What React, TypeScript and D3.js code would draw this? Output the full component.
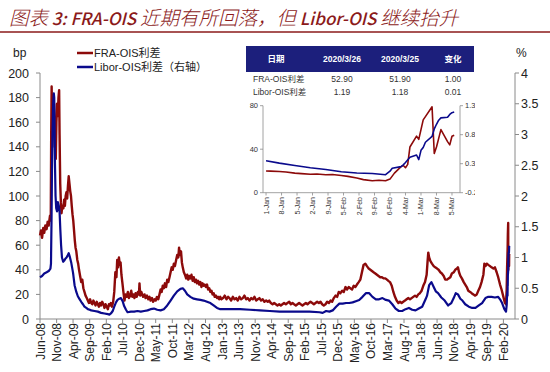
import React from 'react';
import * as d3 from 'd3';

// main series: FRA-OIS (bp, left axis), Libor-OIS (%, right axis)
const fraOis: [string, number][] = [
  ['2008-06-01', 68], ['2008-06-10', 72], ['2008-06-20', 66], ['2008-07-01', 74], ['2008-07-10', 70],
  ['2008-07-20', 76], ['2008-08-01', 73], ['2008-08-10', 79], ['2008-08-20', 76], ['2008-09-01', 84],
  ['2008-09-08', 80], ['2008-09-12', 150], ['2008-09-16', 189], ['2008-09-19', 172], ['2008-09-24', 182],
  ['2008-09-29', 150], ['2008-10-03', 160], ['2008-10-08', 175], ['2008-10-14', 140], ['2008-10-20', 155],
  ['2008-10-24', 130], ['2008-10-30', 160], ['2008-11-05', 175], ['2008-11-12', 165], ['2008-11-18', 180],
  ['2008-11-24', 186], ['2008-11-28', 150], ['2008-12-04', 110], ['2008-12-10', 95], ['2008-12-16', 86],
  ['2008-12-23', 92], ['2009-01-02', 90], ['2009-01-09', 97], ['2009-01-16', 92], ['2009-01-23', 100],
  ['2009-01-30', 103], ['2009-02-06', 98], ['2009-02-13', 108], ['2009-02-20', 116], ['2009-02-27', 110],
  ['2009-03-06', 104], ['2009-03-13', 100], ['2009-03-20', 92], ['2009-03-27', 85], ['2009-04-03', 80],
  ['2009-04-10', 72], ['2009-04-17', 64], ['2009-04-24', 58], ['2009-05-01', 55], ['2009-05-10', 48],
  ['2009-05-18', 45], ['2009-05-26', 40], ['2009-06-05', 35], ['2009-06-15', 30], ['2009-06-25', 32],
  ['2009-07-05', 25], ['2009-07-15', 22], ['2009-07-25', 19], ['2009-08-05', 17], ['2009-08-15', 15],
  ['2009-08-25', 13], ['2009-09-05', 16], ['2009-09-15', 13], ['2009-09-25', 12], ['2009-10-05', 15],
  ['2009-10-15', 13], ['2009-10-25', 11], ['2009-11-05', 14], ['2009-11-15', 12], ['2009-11-25', 10],
  ['2009-12-05', 13], ['2009-12-15', 11], ['2009-12-25', 14], ['2010-01-05', 12], ['2010-01-15', 9],
  ['2010-01-25', 12], ['2010-02-05', 10], ['2010-02-15', 8], ['2010-02-25', 12], ['2010-03-05', 11],
  ['2010-03-15', 13], ['2010-03-25', 10], ['2010-04-05', 14], ['2010-04-15', 22], ['2010-04-25', 38],
  ['2010-05-05', 34], ['2010-05-12', 48], ['2010-05-20', 42], ['2010-05-28', 50], ['2010-06-05', 44],
  ['2010-06-12', 46], ['2010-06-20', 36], ['2010-06-28', 30], ['2010-07-08', 22], ['2010-07-18', 15],
  ['2010-07-28', 20], ['2010-08-08', 18], ['2010-08-18', 22], ['2010-08-28', 17], ['2010-09-08', 19],
  ['2010-09-18', 23], ['2010-09-28', 18], ['2010-10-08', 20], ['2010-10-18', 17], ['2010-10-28', 21],
  ['2010-11-08', 18], ['2010-11-18', 22], ['2010-11-28', 20], ['2010-12-03', 29], ['2010-12-10', 19],
  ['2010-12-20', 22], ['2011-01-05', 18], ['2011-01-18', 20], ['2011-01-28', 17], ['2011-02-10', 19],
  ['2011-02-22', 16], ['2011-03-05', 18], ['2011-03-15', 15], ['2011-03-28', 17], ['2011-04-08', 14],
  ['2011-04-20', 16], ['2011-05-01', 15], ['2011-05-12', 18], ['2011-05-25', 16], ['2011-06-05', 20],
  ['2011-06-15', 24], ['2011-06-25', 22], ['2011-07-05', 27], ['2011-07-15', 25], ['2011-07-25', 29],
  ['2011-08-05', 26], ['2011-08-15', 32], ['2011-08-25', 30], ['2011-09-05', 34], ['2011-09-15', 38],
  ['2011-09-25', 42], ['2011-10-05', 40], ['2011-10-15', 45], ['2011-10-25', 43], ['2011-11-05', 48],
  ['2011-11-15', 52], ['2011-11-25', 50], ['2011-12-02', 58], ['2011-12-10', 52], ['2011-12-20', 55],
  ['2011-12-28', 46], ['2012-01-05', 42], ['2012-01-15', 38], ['2012-01-25', 36], ['2012-02-05', 33],
  ['2012-02-15', 36], ['2012-02-25', 32], ['2012-03-05', 35], ['2012-03-15', 33], ['2012-03-25', 36],
  ['2012-04-05', 31], ['2012-04-15', 34], ['2012-04-25', 30], ['2012-05-05', 32], ['2012-05-15', 29],
  ['2012-05-25', 31], ['2012-06-05', 28], ['2012-06-15', 30], ['2012-06-25', 26], ['2012-07-05', 29],
  ['2012-07-15', 27], ['2012-07-25', 28], ['2012-08-05', 26], ['2012-08-15', 28], ['2012-08-25', 24],
  ['2012-09-05', 25], ['2012-09-15', 22], ['2012-09-25', 23], ['2012-10-05', 20], ['2012-10-15', 21],
  ['2012-10-25', 18], ['2012-11-05', 19], ['2012-11-15', 17], ['2012-11-25', 18], ['2012-12-05', 16],
  ['2012-12-15', 18], ['2012-12-25', 16], ['2013-01-10', 17], ['2013-01-25', 19], ['2013-02-10', 16],
  ['2013-02-25', 18], ['2013-03-10', 17], ['2013-03-25', 15], ['2013-04-10', 18], ['2013-04-25', 16],
  ['2013-05-10', 17], ['2013-05-25', 15], ['2013-06-10', 18], ['2013-06-25', 16], ['2013-07-10', 17],
  ['2013-07-25', 19], ['2013-08-10', 16], ['2013-08-25', 17], ['2013-09-10', 15], ['2013-09-25', 17],
  ['2013-10-10', 16], ['2013-10-25', 18], ['2013-11-10', 15], ['2013-11-25', 16], ['2013-12-10', 17],
  ['2013-12-25', 15], ['2014-01-10', 16], ['2014-01-25', 14], ['2014-02-10', 15], ['2014-02-25', 14],
  ['2014-03-10', 15], ['2014-03-25', 13], ['2014-04-10', 12], ['2014-04-25', 13], ['2014-05-10', 12],
  ['2014-05-25', 11], ['2014-06-10', 12], ['2014-06-25', 11], ['2014-07-10', 12], ['2014-07-25', 13],
  ['2014-08-10', 12], ['2014-08-25', 13], ['2014-09-10', 14], ['2014-09-25', 12], ['2014-10-10', 13],
  ['2014-10-25', 12], ['2014-11-10', 11], ['2014-11-25', 12], ['2014-12-10', 13], ['2014-12-25', 12],
  ['2015-01-10', 11], ['2015-01-25', 12], ['2015-02-10', 13], ['2015-02-25', 12], ['2015-03-10', 13],
  ['2015-03-25', 14], ['2015-04-10', 13], ['2015-04-25', 12], ['2015-05-10', 13], ['2015-05-25', 14],
  ['2015-06-10', 13], ['2015-06-25', 14], ['2015-07-10', 12], ['2015-07-25', 11], ['2015-08-10', 12],
  ['2015-08-25', 14], ['2015-09-10', 13], ['2015-09-25', 15], ['2015-10-10', 14], ['2015-10-25', 17],
  ['2015-11-10', 19], ['2015-11-25', 18], ['2015-12-10', 22], ['2015-12-25', 21], ['2016-01-10', 23],
  ['2016-01-25', 22], ['2016-02-10', 26], ['2016-02-25', 24], ['2016-03-10', 26], ['2016-03-25', 25],
  ['2016-04-10', 24], ['2016-04-25', 27], ['2016-05-10', 26], ['2016-05-25', 28], ['2016-06-10', 30],
  ['2016-06-25', 32], ['2016-07-10', 38], ['2016-07-25', 44], ['2016-08-10', 45], ['2016-08-25', 43],
  ['2016-09-10', 41], ['2016-09-25', 40], ['2016-10-10', 39], ['2016-10-25', 38], ['2016-11-10', 37],
  ['2016-11-25', 36], ['2016-12-10', 35], ['2016-12-25', 34], ['2017-01-10', 34], ['2017-01-25', 33],
  ['2017-02-10', 33], ['2017-02-25', 32], ['2017-03-10', 31], ['2017-03-25', 30], ['2017-04-10', 27],
  ['2017-04-25', 22], ['2017-05-10', 18], ['2017-05-25', 15], ['2017-06-10', 13], ['2017-06-25', 14],
  ['2017-07-10', 13], ['2017-07-25', 14], ['2017-08-10', 15], ['2017-08-25', 16], ['2017-09-10', 17],
  ['2017-09-25', 16], ['2017-10-10', 17], ['2017-10-25', 18], ['2017-11-10', 19], ['2017-11-25', 18],
  ['2017-12-10', 20], ['2017-12-25', 21], ['2018-01-10', 23], ['2018-01-25', 27], ['2018-02-10', 30],
  ['2018-02-25', 36], ['2018-03-05', 46], ['2018-03-12', 54], ['2018-03-20', 50], ['2018-04-01', 47],
  ['2018-04-15', 45], ['2018-05-01', 43], ['2018-05-15', 42], ['2018-06-01', 41], ['2018-06-15', 40],
  ['2018-07-01', 38], ['2018-07-15', 37], ['2018-08-01', 35], ['2018-08-15', 32], ['2018-09-01', 32],
  ['2018-09-15', 33], ['2018-10-01', 34], ['2018-10-15', 37], ['2018-11-01', 38], ['2018-11-15', 40],
  ['2018-12-01', 41], ['2018-12-10', 42], ['2018-12-20', 38], ['2019-01-01', 35], ['2019-01-15', 33],
  ['2019-02-01', 30], ['2019-02-15', 28], ['2019-03-01', 26], ['2019-03-15', 23], ['2019-04-01', 22],
  ['2019-04-15', 21], ['2019-05-01', 20], ['2019-05-15', 19], ['2019-06-01', 20], ['2019-06-15', 23],
  ['2019-07-01', 26], ['2019-07-15', 30], ['2019-08-01', 36], ['2019-08-10', 45], ['2019-08-20', 43],
  ['2019-09-01', 45], ['2019-09-15', 44], ['2019-10-01', 43], ['2019-10-15', 42], ['2019-11-01', 41],
  ['2019-11-15', 42], ['2019-12-01', 38], ['2019-12-15', 34], ['2020-01-01', 28], ['2020-01-15', 24],
  ['2020-02-01', 18], ['2020-02-15', 13], ['2020-02-25', 12], ['2020-03-02', 24], ['2020-03-06', 42],
  ['2020-03-09', 51], ['2020-03-11', 58], ['2020-03-13', 69], ['2020-03-16', 78], ['2020-03-17', 40],
  ['2020-03-19', 58], ['2020-03-20', 48], ['2020-03-23', 52], ['2020-03-24', 43], ['2020-03-25', 51.9],
  ['2020-03-26', 52.9],
];

const liborOis: [string, number][] = [
  ['2008-06-01', 0.68], ['2008-06-20', 0.7], ['2008-07-10', 0.74], ['2008-08-01', 0.76], ['2008-08-20', 0.78],
  ['2008-09-05', 0.82], ['2008-09-10', 0.9], ['2008-09-15', 1.6], ['2008-09-19', 2.4], ['2008-09-24', 3.0],
  ['2008-09-30', 3.5], ['2008-10-06', 3.67], ['2008-10-10', 3.6], ['2008-10-14', 3.0], ['2008-10-17', 2.5],
  ['2008-10-22', 2.0], ['2008-10-28', 1.8], ['2008-11-05', 1.75], ['2008-11-12', 1.9], ['2008-11-20', 1.85],
  ['2008-11-28', 1.75], ['2008-12-05', 1.45], ['2008-12-12', 1.2], ['2008-12-20', 1.0], ['2008-12-31', 0.93],
  ['2009-01-10', 0.95], ['2009-01-20', 0.98], ['2009-01-31', 1.0], ['2009-02-10', 1.03], ['2009-02-20', 1.07],
  ['2009-03-01', 1.02], ['2009-03-15', 0.92], ['2009-04-01', 0.75], ['2009-04-15', 0.55], ['2009-05-01', 0.44],
  ['2009-05-15', 0.37], ['2009-06-01', 0.32], ['2009-06-15', 0.28], ['2009-07-01', 0.24], ['2009-07-15', 0.2],
  ['2009-08-01', 0.18], ['2009-08-15', 0.16], ['2009-09-01', 0.15], ['2009-09-15', 0.14], ['2009-10-15', 0.13],
  ['2009-11-15', 0.12], ['2009-12-15', 0.1], ['2010-01-15', 0.09], ['2010-02-15', 0.08], ['2010-03-01', 0.07],
  ['2010-03-15', 0.09], ['2010-04-01', 0.13], ['2010-04-15', 0.2], ['2010-05-01', 0.27], ['2010-05-15', 0.31],
  ['2010-06-01', 0.33], ['2010-06-15', 0.34], ['2010-07-01', 0.29], ['2010-07-15', 0.21], ['2010-08-01', 0.15],
  ['2010-08-15', 0.11], ['2010-09-15', 0.12], ['2010-10-15', 0.12], ['2010-11-15', 0.13], ['2010-12-15', 0.12],
  ['2011-01-15', 0.13], ['2011-02-15', 0.14], ['2011-03-15', 0.16], ['2011-04-15', 0.17], ['2011-05-15', 0.15],
  ['2011-06-15', 0.14], ['2011-07-15', 0.16], ['2011-08-15', 0.22], ['2011-09-15', 0.3], ['2011-10-15', 0.38],
  ['2011-11-15', 0.45], ['2011-12-15', 0.49], ['2012-01-05', 0.5], ['2012-01-25', 0.46], ['2012-02-15', 0.4],
  ['2012-03-15', 0.36], ['2012-04-15', 0.33], ['2012-05-15', 0.32], ['2012-06-15', 0.31], ['2012-07-15', 0.3],
  ['2012-08-15', 0.28], ['2012-09-15', 0.26], ['2012-10-15', 0.22], ['2012-11-15', 0.18], ['2012-12-15', 0.16],
  ['2013-01-15', 0.16], ['2013-03-15', 0.16], ['2013-06-15', 0.16], ['2013-09-15', 0.15], ['2013-12-15', 0.14],
  ['2014-03-15', 0.13], ['2014-06-15', 0.12], ['2014-09-15', 0.12], ['2014-12-15', 0.12], ['2015-03-15', 0.12],
  ['2015-06-15', 0.11], ['2015-07-15', 0.1], ['2015-08-15', 0.13], ['2015-09-15', 0.12], ['2015-10-15', 0.14],
  ['2015-11-15', 0.2], ['2015-12-15', 0.25], ['2016-01-15', 0.25], ['2016-02-15', 0.26], ['2016-03-15', 0.26],
  ['2016-04-15', 0.27], ['2016-05-15', 0.29], ['2016-06-15', 0.31], ['2016-07-15', 0.36], ['2016-08-15', 0.42],
  ['2016-09-15', 0.42], ['2016-10-15', 0.36], ['2016-11-15', 0.32], ['2016-12-15', 0.32], ['2017-01-15', 0.34],
  ['2017-02-15', 0.31], ['2017-03-15', 0.3], ['2017-04-15', 0.24], ['2017-05-15', 0.17], ['2017-06-15', 0.13],
  ['2017-07-15', 0.13], ['2017-08-15', 0.16], ['2017-09-15', 0.18], ['2017-10-15', 0.15], ['2017-11-15', 0.14],
  ['2017-12-15', 0.17], ['2018-01-15', 0.2], ['2018-02-15', 0.32], ['2018-03-01', 0.38], ['2018-03-20', 0.55],
  ['2018-04-10', 0.6], ['2018-05-01', 0.52], ['2018-05-20', 0.45], ['2018-06-10', 0.42], ['2018-07-10', 0.35],
  ['2018-08-10', 0.3], ['2018-09-10', 0.22], ['2018-10-10', 0.26], ['2018-11-01', 0.34], ['2018-11-20', 0.42],
  ['2018-12-10', 0.4], ['2019-01-01', 0.33], ['2019-01-20', 0.3], ['2019-02-15', 0.24], ['2019-03-20', 0.2],
  ['2019-04-20', 0.18], ['2019-05-20', 0.18], ['2019-06-20', 0.22], ['2019-07-20', 0.26], ['2019-08-20', 0.34],
  ['2019-09-15', 0.36], ['2019-10-15', 0.36], ['2019-11-15', 0.35], ['2019-12-15', 0.36], ['2020-01-01', 0.32],
  ['2020-01-20', 0.26], ['2020-02-10', 0.16], ['2020-02-25', 0.12], ['2020-03-02', 0.22], ['2020-03-06', 0.4],
  ['2020-03-09', 0.45], ['2020-03-10', 0.38], ['2020-03-11', 0.55], ['2020-03-12', 0.54], ['2020-03-13', 0.71],
  ['2020-03-16', 0.78], ['2020-03-17', 0.89], ['2020-03-18', 1.02], ['2020-03-19', 1.05], ['2020-03-20', 1.08],
  ['2020-03-23', 1.08], ['2020-03-24', 1.12], ['2020-03-25', 1.18], ['2020-03-26', 1.19],
];

// inset: 2020 year to date
const insetFra: [string, number][] = [
  ['2020-01-01', 20], ['2020-01-03', 19.8], ['2020-01-07', 19.5], ['2020-01-10', 19], ['2020-01-14', 18],
  ['2020-01-17', 17.5], ['2020-01-21', 17], ['2020-01-24', 17.2], ['2020-01-28', 16.5], ['2020-01-31', 16.8],
  ['2020-02-04', 15.8], ['2020-02-07', 15], ['2020-02-11', 13.5], ['2020-02-14', 12], ['2020-02-18', 11],
  ['2020-02-21', 11.5], ['2020-02-24', 11], ['2020-02-26', 12.5], ['2020-02-28', 18], ['2020-03-02', 24],
  ['2020-03-03', 25], ['2020-03-04', 23], ['2020-03-05', 26], ['2020-03-06', 42], ['2020-03-09', 52],
  ['2020-03-10', 49], ['2020-03-11', 58], ['2020-03-12', 67], ['2020-03-13', 70], ['2020-03-16', 79],
  ['2020-03-17', 36], ['2020-03-18', 42], ['2020-03-19', 50], ['2020-03-20', 58], ['2020-03-23', 47],
  ['2020-03-24', 44], ['2020-03-25', 51.9], ['2020-03-26', 52.9],
];

const insetLibor: [string, number][] = [
  ['2020-01-01', 0.35], ['2020-01-07', 0.31], ['2020-01-14', 0.27], ['2020-01-21', 0.23], ['2020-01-28', 0.2],
  ['2020-02-04', 0.16], ['2020-02-11', 0.14], ['2020-02-18', 0.13], ['2020-02-24', 0.11], ['2020-02-26', 0.17],
  ['2020-02-27', 0.22], ['2020-03-02', 0.25], ['2020-03-03', 0.28], ['2020-03-04', 0.32], ['2020-03-06', 0.41],
  ['2020-03-09', 0.45], ['2020-03-10', 0.37], ['2020-03-11', 0.53], ['2020-03-12', 0.58], ['2020-03-13', 0.67],
  ['2020-03-16', 0.77], ['2020-03-17', 0.9], ['2020-03-18', 0.98], ['2020-03-19', 1.05], ['2020-03-20', 1.09],
  ['2020-03-23', 1.1], ['2020-03-24', 1.15], ['2020-03-25', 1.18], ['2020-03-26', 1.19],
];

const xLabels = [
  'Jun-08', 'Nov-08', 'Apr-09', 'Sep-09', 'Feb-10', 'Jul-10', 'Dec-10', 'May-11', 'Oct-11', 'Mar-12',
  'Aug-12', 'Jan-13', 'Jun-13', 'Nov-13', 'Apr-14', 'Sep-14', 'Feb-15', 'Jul-15', 'Dec-15', 'May-16',
  'Oct-16', 'Mar-17', 'Aug-17', 'Jan-18', 'Jun-18', 'Nov-18', 'Apr-19', 'Sep-19', 'Feb-20',
];
const leftTicks = [0, 20, 40, 60, 80, 100, 120, 140, 160, 180, 200];
const rightTicks = [0, 0.5, 1, 1.5, 2, 2.5, 3, 3.5, 4];

const insetWeeks = [
  '2020-01-01', '2020-01-08', '2020-01-15', '2020-01-22', '2020-01-29', '2020-02-05', '2020-02-12',
  '2020-02-19', '2020-02-26', '2020-03-04', '2020-03-11', '2020-03-18', '2020-03-25',
];
const insetWeekLabels = ['1-Jan', '8-Jan', '5-Jan', '2-Jan', '9-Jan', '5-Feb', '2-Feb', '9-Feb', '6-Feb', '4-Mar', '1-Mar', '8-Mar', '5-Mar'];
const insetLeftTicks = [0, 40, 80];
const insetRightTicks = [-0.2, 0.3, 0.8, 1.3];

const tableHeader = ['日期', '2020/3/26', '2020/3/25', '变化'];
const tableRows = [
  ['FRA-OIS利差', '52.90', '51.90', '1.00'],
  ['Libor-OIS利差', '1.19', '1.18', '0.01'],
];

// title pieces: [text, isCJK]
const titleParts: [string, boolean][] = [
  ['图表', true], [' 3: FRA-OIS ', false], ['近期有所回落，但', true], [' Libor-OIS ', false], ['继续抬升', true],
];

const RED = '#8c0a0a';
const BLUE = '#0a0a8c';
const AXIS = '#8a8a8a';
const FONT = "'Liberation Sans', Arial, 'Noto Sans CJK SC', sans-serif";

const parse = d3.timeParse('%Y-%m-%d');
const parseMonth = d3.timeParse('%b-%y');

export default function App() {
  const x = d3.scaleTime().domain([parseMonth('Jun-08')!, parseMonth('Feb-20')!]).range([40, 503.4]);
  const yL = d3.scaleLinear().domain([0, 200]).range([319, 73]);
  const yR = d3.scaleLinear().domain([0, 4]).range([319, 73]);

  const redLine = d3.line<[string, number]>().x(d => x(parse(d[0])!)).y(d => yL(d[1]));
  const blueLine = d3.line<[string, number]>().x(d => x(parse(d[0])!)).y(d => yR(d[1]));

  const ix = d3.scaleTime()
    .domain([new Date(2019, 11, 30, 15), new Date(2020, 2, 28, 15)])
    .range([263, 460]);
  const iyL = d3.scaleLinear().domain([0, 80]).range([192.7, 105.7]);
  const iyR = d3.scaleLinear().domain([-0.2, 1.3]).range([192.7, 105.7]);
  const insetRed = d3.line<[string, number]>().x(d => ix(parse(d[0])!)).y(d => iyL(d[1]));
  const insetBlue = d3.line<[string, number]>().x(d => ix(parse(d[0])!)).y(d => iyR(d[1]));

  const colX = [276, 342, 400, 453];

  return (
    <svg width={550} height={372} style={{ position: 'absolute', left: 0, top: 0, background: '#fff' }} fontFamily={FONT}>
      <rect width={550} height={372} fill="#fff" />
      {/* title */}
      <text x={9} y={25} fontStyle="italic" fill="#8b1a1a" fontFamily="'Noto Sans CJK SC', sans-serif">
        {titleParts.map(([t, cjk], i) => (
          <tspan key={i} fontSize={cjk ? 19.5 : 17} fontWeight={cjk ? 300 : 500}>{t}</tspan>
        ))}
      </text>
      <line x1={0} x2={550} y1={32} y2={32} stroke="#8b1a1a" strokeWidth={1.5} />

      {/* units */}
      <text x={13} y={57} fontSize={12} fill="#222">bp</text>
      <text x={516} y={57} fontSize={12} fill="#222">%</text>

      {/* left axis */}
      <line x1={40} x2={40} y1={73} y2={319} stroke={AXIS} />
      {leftTicks.map(t => (
        <g key={'l' + t}>
          <line x1={36} x2={40} y1={yL(t)} y2={yL(t)} stroke={AXIS} />
          <text x={29} y={yL(t) + 4.5} fontSize={12.5} textAnchor="end" fill="#222">{t}</text>
        </g>
      ))}
      {/* right axis */}
      <line x1={515} x2={515} y1={73} y2={319} stroke={AXIS} />
      {rightTicks.map(t => (
        <g key={'r' + t}>
          <line x1={515} x2={519} y1={yR(t)} y2={yR(t)} stroke={AXIS} />
          <text x={521} y={yR(t) + 4.5} fontSize={12.5} fill="#222">{t}</text>
        </g>
      ))}
      {/* bottom axis */}
      <line x1={40} x2={515} y1={319} y2={319} stroke={AXIS} />
      {xLabels.map(l => {
        const px = x(parseMonth(l)!);
        return (
          <g key={l}>
            <line x1={px} x2={px} y1={319} y2={323} stroke={AXIS} />
            <text transform={`translate(${px + 4.5},${323}) rotate(-90)`} fontSize={12} textAnchor="end" fill="#222">{l}</text>
          </g>
        );
      })}

      {/* series */}
      <path d={redLine(fraOis)!} fill="none" stroke={RED} strokeWidth={2.4} strokeLinejoin="round" />
      <path d={blueLine(liborOis)!} fill="none" stroke={BLUE} strokeWidth={2.2} strokeLinejoin="round" />

      {/* legend */}
      <line x1={77} x2={93} y1={53} y2={53} stroke={RED} strokeWidth={2.5} />
      <text x={94} y={57} fontSize={11} fill="#222">FRA-OIS利差</text>
      <line x1={77} x2={93} y1={67} y2={67} stroke={BLUE} strokeWidth={2.5} />
      <text x={94} y={71} fontSize={11} fill="#222">Libor-OIS利差（右轴）</text>

      {/* inset */}
      <g>
        <rect x={244} y={44} width={232} height={180} fill="#fff" />
        <rect x={246} y={46} width={228} height={26} fill="#1c1f7c" />
        {tableHeader.map((h, i) => (
          <text key={h} x={colX[i]} y={62} fontSize={8.5} fontWeight="bold" fill="#fff" textAnchor="middle">{h}</text>
        ))}
        {tableRows.map((row, r) => (
          <g key={row[0]}>
            {row.map((c, i) => (
              <text key={i} x={i === 0 ? 253 : colX[i]} y={82 + r * 13} fontSize={8.5} fill="#333"
                textAnchor={i === 0 ? 'start' : 'middle'}>{c}</text>
            ))}
          </g>
        ))}

        <line x1={263} x2={263} y1={105.7} y2={192.7} stroke={AXIS} strokeWidth={0.8} />
        <line x1={460} x2={460} y1={105.7} y2={192.7} stroke={AXIS} strokeWidth={0.8} />
        <line x1={263} x2={460} y1={192.7} y2={192.7} stroke={AXIS} strokeWidth={0.8} />
        {insetLeftTicks.map(t => (
          <g key={'il' + t}>
            <line x1={260} x2={263} y1={iyL(t)} y2={iyL(t)} stroke={AXIS} strokeWidth={0.8} />
            <text x={258} y={iyL(t) + 2.5} fontSize={7.5} textAnchor="end" fill="#333">{t}</text>
          </g>
        ))}
        {insetRightTicks.map(t => (
          <g key={'ir' + t}>
            <line x1={460} x2={463} y1={iyR(t)} y2={iyR(t)} stroke={AXIS} strokeWidth={0.8} />
            <text x={465} y={iyR(t) + 2.5} fontSize={7.5} fill="#333">{t}</text>
          </g>
        ))}
        {insetWeeks.map((w, i) => {
          const px = ix(parse(w)!);
          return (
            <g key={w}>
              <line x1={px} x2={px} y1={192.7} y2={195.5} stroke={AXIS} strokeWidth={0.8} />
              <text transform={`translate(${px + 2.5},${197}) rotate(-90)`} fontSize={7} textAnchor="end" fill="#333">{insetWeekLabels[i]}</text>
            </g>
          );
        })}
        <path d={insetRed(insetFra)!} fill="none" stroke={RED} strokeWidth={1.6} strokeLinejoin="round" />
        <path d={insetBlue(insetLibor)!} fill="none" stroke={BLUE} strokeWidth={1.6} strokeLinejoin="round" />
        {/* the source image clips the right labels here */}
        <rect x={475} y={100} width={10} height={100} fill="#fff" />
      </g>
    </svg>
  );
}
